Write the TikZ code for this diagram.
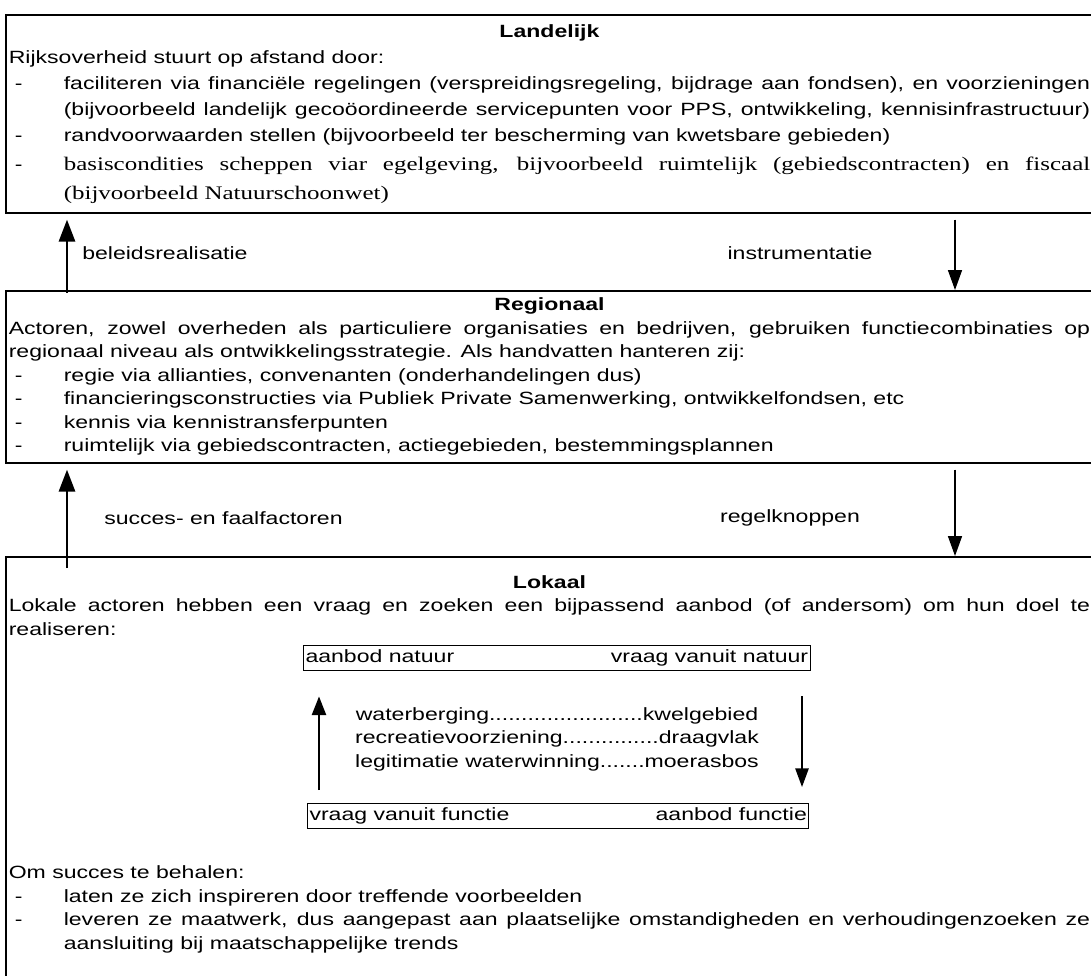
\documentclass[tikz,border=0pt]{standalone}
\usepackage{fontspec}
\setmainfont{Liberation Sans}[FakeStretch=1.3]
\newfontfamily\timesfont{Liberation Serif}[FakeStretch=1.3]
\usetikzlibrary{positioning,arrows.meta}

\newcommand{\boxfont}{\fontsize{13.3}{17.6}\selectfont\parindent=0pt}
\newcommand{\wideboxfont}{\fontsize{13.3}{19.5}\selectfont\parindent=0pt}
\newcommand{\dashitem}[1]{{\hangindent=41.25pt\hangafter=1\noindent\hspace*{4.5pt}\makebox[36.75pt][l]{-}#1\par}}
\newcommand{\fullend}{\parfillskip=0pt}
\newcommand{\pairline}[3]{\makebox[#1][s]{#2\hfill #3}}

\begin{document}
\begin{tikzpicture}[
    x=0.75pt, y=-0.75pt,
    panel/.style={draw, line width=1.2pt, rectangle, anchor=north west, inner xsep=2.25pt, inner ysep=3pt, text width=811pt, align=justify, font=\boxfont},
    pairbox/.style={draw, line width=0.8pt, rectangle, anchor=north west, inner xsep=1.5pt, inner ysep=0pt, minimum height=19pt, font=\boxfont},
    flowlabel/.style={inner sep=0pt, font=\boxfont},
    upflow/.style={line width=2.2pt, -{Triangle[length=16.5pt, width=12pt]}},
    downflow/.style={line width=1.2pt, -{Triangle[length=15pt, width=10.5pt]}},
    upsmall/.style={line width=1.8pt, -{Triangle[length=14pt, width=10.5pt]}},
    downsmall/.style={line width=1.2pt, -{Triangle[length=14pt, width=10pt]}}
]
    \useasboundingbox (0,0) rectangle (1091,975);
    \clip (0,0) rectangle (1091,975);

    % Levels
    \node[panel, minimum height=148.5pt, font=\wideboxfont] (landelijk) at (5,14) {%
        \centerline{\textbf{Landelijk}}
        \noindent Rijksoverheid stuurt op afstand door:\par
        \dashitem{faciliteren via financiële regelingen (verspreidingsregeling, bijdrage aan fondsen), en voorzieningen\linebreak (bijvoorbeeld landelijk gecoöordineerde servicepunten voor PPS, ontwikkeling, kennisinfrastructuur)\fullend}
        \dashitem{randvoorwaarden stellen (bijvoorbeeld ter bescherming van kwetsbare gebieden)}
        \dashitem{\timesfont\fontsize{14.4}{21.75}\selectfont basiscondities scheppen viar egelgeving, bijvoorbeeld ruimtelijk (gebiedscontracten) en fiscaal\linebreak (bijvoorbeeld Natuurschoonwet)}};
    \node[panel, minimum height=129pt] (regionaal) at (5,290) {%
        \centerline{\textbf{Regionaal}}
        \noindent Actoren, zowel overheden als particuliere organisaties en bedrijven, gebruiken functiecombinaties op\linebreak regionaal niveau als ontwikkelingsstrategie. Als handvatten hanteren zij:\par
        \dashitem{regie via allianties, convenanten (onderhandelingen dus)}
        \dashitem{financieringsconstructies via Publiek Private Samenwerking, ontwikkelfondsen, etc}
        \dashitem{kennis via kennistransferpunten}
        \dashitem{ruimtelijk via gebiedscontracten, actiegebieden, bestemmingsplannen}};
    \node[panel, inner ysep=14pt] (lokaal) at (5,556) {%
        \centerline{\textbf{Lokaal}}
        \noindent Lokale actoren hebben een vraag en zoeken een bijpassend aanbod (of andersom) om hun doel te\linebreak realiseren:\par
        \vspace{165pt}
        \noindent Om succes te behalen:\par
        \dashitem{laten ze zich inspireren door treffende voorbeelden}
        \dashitem{leveren ze maatwerk, dus aangepast aan plaatselijke omstandigheden en verhoudingenzoeken ze\linebreak aansluiting bij maatschappelijke trends}
        \vspace{40pt}\null};

    % Supply and demand
    \node[pairbox] (natuur) at (303,645) {\pairline{377pt}{aanbod natuur}{vraag vanuit natuur}};
    \node[pairbox] (functie) at (307,803) {\pairline{373pt}{vraag vanuit functie}{aanbod functie}};
    \node[font=\boxfont, align=center, inner sep=0pt] (pairs) at (557,739) {waterberging........................kwelgebied\\ recreatievoorziening...............draagvlak\\ legitimatie waterwinning.......moerasbos};

    % Arrows
    \coordinate (upcol) at (67,0);
    \coordinate (downcol) at (955,0);
    \coordinate (inup) at (319,0);
    \coordinate (indown) at (802,0);
    \draw[upflow] ([yshift=-2pt]regionaal.north -| upcol) -- ([yshift=-4.5pt]landelijk.south -| upcol);
    \draw[downflow] ([yshift=-4.5pt]landelijk.south -| downcol) -- (regionaal.north -| downcol);
    \draw[upflow] ([yshift=-9pt]lokaal.north -| upcol) -- ([yshift=-4.5pt]regionaal.south -| upcol);
    \draw[downflow] ([yshift=-4.5pt]regionaal.south -| downcol) -- (lokaal.north -| downcol);
    \draw[upsmall] ([yshift=9.75pt]functie.north -| inup) -- ([yshift=-18.75pt]natuur.south -| inup);
    \draw[downsmall] ([yshift=-18.75pt]natuur.south -| indown) -- ([yshift=12pt]functie.north -| indown);

    % Labels
    \node[flowlabel, anchor=west] (beleid) at (82,253) {beleidsrealisatie};
    \node[flowlabel] (instr) at (800,253) {instrumentatie};
    \node[flowlabel, anchor=west] (succes) at (104,518) {succes- en faalfactoren};
    \node[flowlabel] (regel) at (790,518) {regelknoppen};
\end{tikzpicture}
\end{document}
